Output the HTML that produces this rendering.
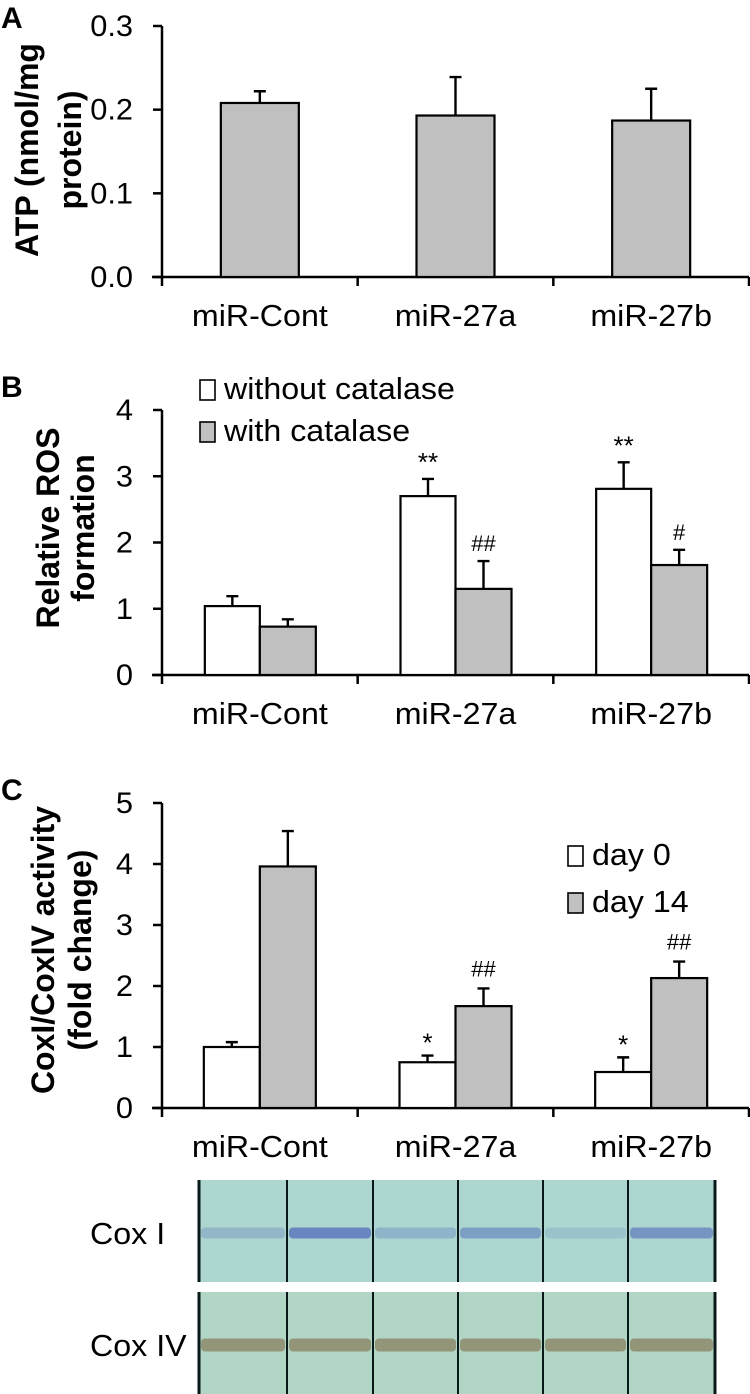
<!DOCTYPE html>
<html><head><meta charset="utf-8"><style>
html,body{margin:0;padding:0;background:#fff;}
svg{display:block;font-family:"Liberation Sans",Arial,sans-serif;}
</style></head><body>
<svg id="fig" width="750" height="1394" viewBox="0 0 750 1394" xmlns="http://www.w3.org/2000/svg"></svg>
<script>
const categories = ["miR-Cont","miR-27a","miR-27b"];
// Panel A
const atpValues = [0.208,0.193,0.187];
const atpErrors = [0.014,0.046,0.038];
const atpTicks = ["0.0","0.1","0.2","0.3"];
// Panel B
const rosWithout = [1.04,2.70,2.81];
const rosWithoutErr = [0.15,0.26,0.40];
const rosWith = [0.73,1.30,1.66];
const rosWithErr = [0.11,0.42,0.23];
const rosWithoutMarks = ["","**","**"];
const rosWithMarks = ["","##","#"];
const rosTicks = ["0","1","2","3","4"];
// Panel C
const coxDay0 = [1.00,0.75,0.59];
const coxDay0Err = [0.08,0.11,0.24];
const coxDay14 = [3.96,1.67,2.13];
const coxDay14Err = [0.58,0.29,0.27];
const coxDay0Marks = ["","*","*"];
const coxDay14Marks = ["","##","##"];
const coxTicks = ["0","1","2","3","4","5"];

const NS="http://www.w3.org/2000/svg";
const svg=document.getElementById('fig');
function el(tag,attrs,parent,text){const e=document.createElementNS(NS,tag);for(const k in attrs)e.setAttribute(k,attrs[k]);if(text!==undefined)e.textContent=text;(parent||svg).appendChild(e);return e;}

const X0=162, X1=749;
function xGroup(i){return X0+(X1-X0)/3*(i+0.5);}

function axes(g,yBase,yTop,ticks,maxV,name){
  const ys=v=>yBase-(yBase-yTop)*v/maxV;
  const ax=el('line',{x1:X0,y1:yTop,x2:X0,y2:yBase,stroke:'#000','stroke-width':2.5},g);
  
  const bx=el('line',{x1:X0-10,y1:yBase,x2:X1,y2:yBase,stroke:'#000','stroke-width':2.5},g);
  
  ticks.forEach((t,i)=>{
    const v=maxV*i/(ticks.length-1), y=ys(v);
    const tl=el('line',{x1:X0-9,y1:y,x2:X0,y2:y,stroke:'#000','stroke-width':2.5},g);
    
    const tx=el('text',{x:0,y:0,'font-size':28,'text-anchor':'end',transform:`translate(${X0-29},${y+10}) scale(1.1,1.05)`},g,t);
    
  });
  for(let i=0;i<=3;i++){
    const x=X0+(X1-X0)/3*i;
    const tk=el('line',{x1:x,y1:yBase,x2:x,y2:yBase+9,stroke:'#000','stroke-width':2.5},g);
    
  }
  categories.forEach((c,i)=>{
    const tx=el('text',{x:0,y:0,'font-size':28,'text-anchor':'middle',transform:`translate(${xGroup(i)},${yBase+49}) scale(1.15,1.08)`},g,c);
    
  });
  return ys;
}
function bar(g,x,w,yBase,yv,fill,name){
  const r=el('rect',{x:x,y:yv,width:w,height:yBase-yv,fill:fill,stroke:'#000','stroke-width':2.2},g);
  
}
function err(g,x,yv,ye){
  const l=el('path',{d:`M${x},${yv}V${ye}M${x-6},${ye}H${x+6}`,stroke:'#000','stroke-width':2.4,fill:'none'},g);
  
}
function mark(g,x,y,t){
  if(!t)return;
  const m=el('text',{x:x,y:y,'font-size':t.includes('#')?22:26,'text-anchor':'middle'},g,t);
  
}
function panelLetter(t,y){const l=el('text',{x:1,y:y,'font-size':30,'font-weight':'bold'},svg,t);}
function ytitle(g,lines,xs,cy,name){
  lines.forEach((ln,i)=>{
    const t=el('text',{x:0,y:0,'font-size':32,'font-weight':'bold','text-anchor':'middle',transform:`translate(${xs[i]},${cy}) rotate(-90)`},g,ln);
    
  });
}
function legend(g,x,y,fill,label){
  const lg=el('g',{},g);
  el('rect',{x:x,y:y-19,width:15,height:20,fill:fill,stroke:'#000','stroke-width':1.6},lg);
  const t=el('text',{x:0,y:0,'font-size':28,transform:`translate(${x+24},${y}) scale(1.15,1.1)`},lg,label);
  
}

// Panel A
panelLetter('A',28);
const gA=el('g',{});
const yA=axes(gA,277,26,atpTicks,0.3,'panel-a');
ytitle(gA,['ATP (nmol/mg','protein)'],[38,81],150,'y-axis-title');
atpValues.forEach((v,i)=>{const c=xGroup(i);bar(gA,c-39,78,277,yA(v),'#c0c0c0','bar-atp');err(gA,c,yA(v),yA(v+atpErrors[i]));});

// Panel B
panelLetter('B',397);
const gB=el('g',{});
const yB=axes(gB,675,410,rosTicks,4,'panel-b');
ytitle(gB,['Relative ROS','formation'],[59,94],528,'y-axis-title');
legend(gB,200,399,'#fff','without catalase');
legend(gB,200,441,'#c0c0c0','with catalase');
categories.forEach((c,i)=>{
  const cx=xGroup(i);
  bar(gB,cx-55,55,675,yB(rosWithout[i]),'#fff','bar-without-catalase');
  err(gB,cx-27.5,yB(rosWithout[i]),yB(rosWithout[i]+rosWithoutErr[i]));
  mark(gB,cx-27.5,yB(rosWithout[i]+rosWithoutErr[i])-8,rosWithoutMarks[i]);
  bar(gB,cx,56,675,yB(rosWith[i]),'#c0c0c0','bar-with-catalase');
  err(gB,cx+28,yB(rosWith[i]),yB(rosWith[i]+rosWithErr[i]));
  mark(gB,cx+28,yB(rosWith[i]+rosWithErr[i])-10,rosWithMarks[i]);
});

// Panel C
panelLetter('C',800);
const gC=el('g',{});
const yC=axes(gC,1108,803,coxTicks,5,'panel-c');
ytitle(gC,['CoxI/CoxIV activity','(fold change)'],[54,91],950,'y-axis-title');
legend(gC,568,865,'#fff','day 0');
legend(gC,568,912,'#c0c0c0','day 14');
categories.forEach((c,i)=>{
  const cx=xGroup(i);
  bar(gC,cx-56,56,1108,yC(coxDay0[i]),'#fff','bar-day-0');
  err(gC,cx-28,yC(coxDay0[i]),yC(coxDay0[i]+coxDay0Err[i]));
  mark(gC,cx-28,yC(coxDay0[i]+coxDay0Err[i])-4,coxDay0Marks[i]);
  bar(gC,cx,56,1108,yC(coxDay14[i]),'#c0c0c0','bar-day-14');
  err(gC,cx+28,yC(coxDay14[i]),yC(coxDay14[i]+coxDay14Err[i]));
  mark(gC,cx+28,yC(coxDay14[i]+coxDay14Err[i])-12,coxDay14Marks[i]);
});

// Blots
const lanes=[199,287,373,458,543,628,715];
const coxIInt=[0.3,0.8,0.35,0.55,0.2,0.65];
function blot(y0,h,bg,bandY,bandH,bandColor,ints,label,name){
  const g=el('g',{});
  el('rect',{x:199,y:y0,width:516,height:h,fill:bg},g);
  for(let i=0;i<6;i++){
    el('rect',{x:lanes[i]+2,y:bandY-bandH/2,width:lanes[i+1]-lanes[i]-4,height:bandH,rx:4,fill:bandColor,opacity:ints[i]},g);
  }
  lanes.forEach((x,i)=>el('line',{x1:x,y1:y0,x2:x,y2:y0+h,stroke:'#0a1a1a','stroke-width':(i==0||i==6)?3:2},g));
  const t=el('text',{x:0,y:0,'font-size':28,transform:`translate(90,${bandY+11}) scale(1.15,1.1)`},svg,label);
  
}
blot(1180,102,'#acd6cf',1233,11,'#5a72bc',coxIInt,'Cox I','cox-i-blot');
blot(1292,102,'#b2d6c6',1345,13,'#8c8a6a',[0.85,0.85,0.85,0.85,0.85,0.85],'Cox IV','cox-iv-blot');
</script>
</body></html>
